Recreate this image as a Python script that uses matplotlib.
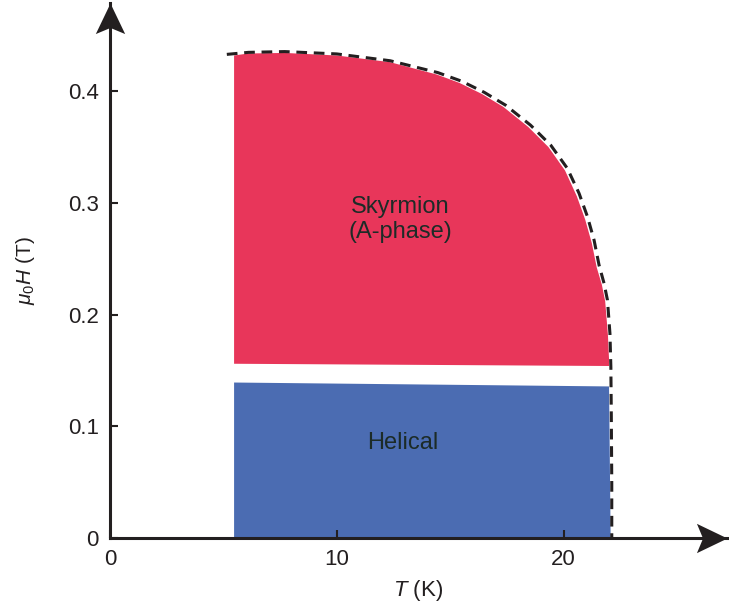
import matplotlib
matplotlib.use("Agg")
import matplotlib.pyplot as plt
from matplotlib.path import Path

# Phase boundary (dashed line)
boundary_T = [5.15, 6.1, 7.7, 10.0, 12.35, 14.45, 15.5, 16.5, 17.44, 18.54, 19.43, 20.16, 20.68, 21.05, 21.34, 21.56, 21.78, 21.93, 22.04, 22.08, 22.1, 22.12, 22.12]
boundary_H = [0.433, 0.4348, 0.4355, 0.4334, 0.4273, 0.4167, 0.409, 0.399, 0.3875, 0.3696, 0.3517, 0.331, 0.3085, 0.2876, 0.2667, 0.2443, 0.228, 0.213, 0.183, 0.153, 0.109, 0.049, 0.0]

# Skyrmion (A-phase) pocket outline
sky_T = [5.47, 5.47, 6.1, 7.7, 10.0, 12.35, 14.4, 15.4, 16.4, 17.34, 18.44, 19.33, 20.06, 20.58, 20.95, 21.24, 21.46, 21.68, 21.83, 21.95, 22.0, 22.0]
sky_H = [0.156, 0.432, 0.4338, 0.4343, 0.432, 0.426, 0.415, 0.4075, 0.3975, 0.386, 0.368, 0.350, 0.329, 0.306, 0.285, 0.264, 0.242, 0.227, 0.212, 0.182, 0.160, 0.154]

# Helical phase outline
hel_T = [5.47, 5.47, 22.0, 22.07]
hel_H = [0.0, 0.1392, 0.1357, 0.0]

xticks = [0, 10, 20]
yticks = [0, 0.1, 0.2, 0.3, 0.4]
ytick_labels = ["0", "0.1", "0.2", "0.3", "0.4"]

red = "#e8365a"
blue = "#4b6cb2"
ink = "#231f20"
label_ink = "#1c2b27"

plt.rcParams["font.family"] = ["Liberation Sans", "DejaVu Sans"]
plt.rcParams["mathtext.fontset"] = "custom"
plt.rcParams["mathtext.rm"] = "Liberation Sans"
plt.rcParams["mathtext.it"] = "Liberation Sans:italic"

fig = plt.figure(figsize=(7.29, 6.10), dpi=100)
ax = fig.add_axes([110 / 729, 1 - 538 / 610, 617 / 729, 535 / 610])
ax.set_xlim(0, 27.2)
ax.set_ylim(0, 0.479)

ax.fill(hel_T, hel_H, color=blue, lw=0)
ax.fill(sky_T, sky_H, color=red, lw=0)
ax.plot(boundary_T, boundary_H, color=ink, lw=2.2, ls=(0, (3.5, 2.2)))

ax.text(12.8, 0.285, "Skyrmion\n(A-phase)", ha="center", va="center",
        fontsize=17, color=label_ink, linespacing=1.2)
ax.text(12.9, 0.085, "Helical", ha="center", va="center", fontsize=17, color=label_ink)

# axes as arrows: spines plus stealth-style heads
for side in ["top", "right"]:
    ax.spines[side].set_visible(False)
for side in ["left", "bottom"]:
    ax.spines[side].set_linewidth(2.2)
    ax.spines[side].set_color(ink)

head_x = Path([(0, 0), (-1, 0.48), (-0.8, 0), (-1, -0.48), (0, 0)],
              [Path.MOVETO, Path.LINETO, Path.LINETO, Path.LINETO, Path.CLOSEPOLY])
head_y = Path([(0, 0), (0.48, -1), (0, -0.8), (-0.48, -1), (0, 0)],
              [Path.MOVETO, Path.LINETO, Path.LINETO, Path.LINETO, Path.CLOSEPOLY])
ax.plot([1], [0], marker=head_x, ms=44, color=ink, mew=0,
        transform=ax.transAxes, clip_on=False)
ax.plot([0], [1], marker=head_y, ms=44, color=ink, mew=0,
        transform=ax.transAxes, clip_on=False)

ax.set_xticks(xticks)
ax.set_yticks(yticks)
ax.set_yticklabels(ytick_labels)
ax.tick_params(direction="in", length=6, width=1.5, color=ink,
               labelsize=16, labelcolor=ink, pad=8)
ax.set_xlabel("$T$ (K)", fontsize=16, color=ink, labelpad=6)
ax.set_ylabel(r"$\mu_0H$ (T)", fontsize=15, color=ink, labelpad=22)

fig.savefig("out.png", dpi=100)
